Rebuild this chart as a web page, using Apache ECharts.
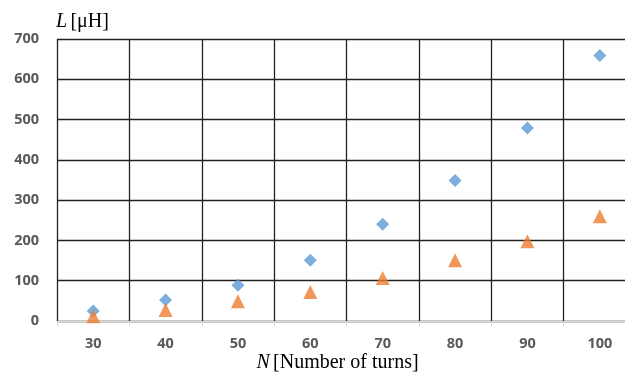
<!DOCTYPE html>
<html><head><meta charset="utf-8">
<script src="https://cdn.jsdelivr.net/npm/echarts@6/dist/echarts.min.js"></script>
<style>html,body{margin:0;padding:0;background:#fff}#c{width:625px;height:373px}</style>
</head><body><div id="c"></div>
<script>
const categories = ['30','40','50','60','70','80','90','100'];
const seriesA = [25, 52, 89, 151, 240, 349, 479, 659];
const seriesB = [12, 27, 49, 72, 107, 151, 198, 260];
const yTicks = {min: 0, max: 700, interval: 100};

const chart = echarts.init(document.getElementById('c'));
chart.setOption({
  animation: false,
  grid: {left: 57, top: 39, width: 579, height: 282, containLabel: false, outerBoundsMode: 'none'},
  xAxis: {
    type: 'category', data: categories, boundaryGap: true,
    axisLine: {lineStyle: {color: '#d9d9d9', width: 1}},
    axisTick: {show: true, length: 5, lineStyle: {color: '#d9d9d9'}},
    axisLabel: {color: '#595959', fontWeight: 'bold', fontSize: 14.5, fontFamily: 'Open Sans', margin: 15},
    splitLine: {show: true, lineStyle: {color: '#222', width: 1.3}},
    name: '{i|N} {n|[Number of turns]}', nameLocation: 'middle', nameGap: 32, nameMoveOverlap: false,
    nameTextStyle: {padding: [0, 18, 0, 0], rich: {
      i: {fontFamily: 'Liberation Serif', fontStyle: 'italic', fontSize: 20, color: '#000'},
      n: {fontFamily: 'Liberation Serif', fontSize: 20, color: '#000'}
    }}
  },
  yAxis: {
    type: 'value', min: yTicks.min, max: yTicks.max, interval: yTicks.interval,
    axisLine: {show: false}, axisTick: {show: false},
    axisLabel: {color: '#595959', fontWeight: 'bold', fontSize: 14.5, fontFamily: 'Open Sans', margin: 18},
    splitLine: {show: true, lineStyle: {color: '#222', width: 1.3}},
    name: '{i|L} {n|[μH]}', nameLocation: 'end', nameGap: 7,
    nameTextStyle: {align: 'left', padding: [0, 0, 0, -1], rich: {
      i: {fontFamily: 'Liberation Serif', fontStyle: 'italic', fontSize: 20, color: '#000'},
      n: {fontFamily: 'Liberation Serif', fontSize: 20, color: '#000'}
    }}
  },
  series: [
    {type: 'scatter', data: seriesA, symbol: 'diamond', symbolSize: 13, itemStyle: {color: '#5B9BD5'}, z: 3},
    {type: 'scatter', data: seriesB, symbol: 'triangle', symbolSize: 14, itemStyle: {color: '#ED7D31'}, z: 4}
  ]
});
</script></body></html>
